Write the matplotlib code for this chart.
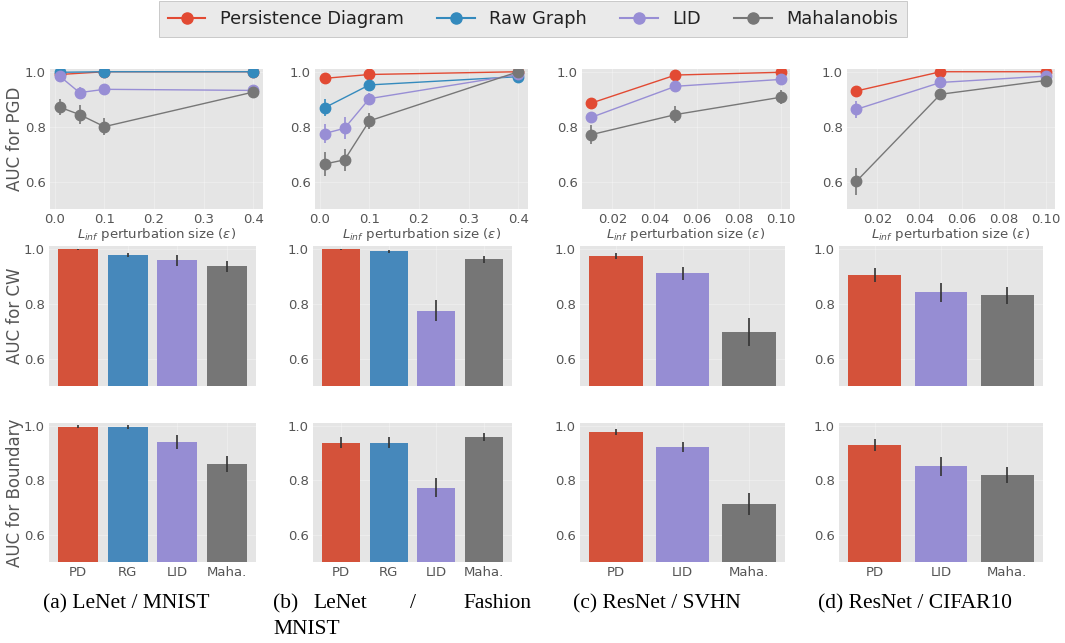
import numpy as np
import matplotlib.pyplot as plt
from matplotlib.lines import Line2D

plt.style.use('ggplot')

# colours of the four detectors
c_pd = '#E24A33'
c_rg = '#348ABD'
c_lid = '#988ED5'
c_maha = '#777777'
bar_pd = '#D4523A'
bar_rg = '#4688BB'
bar_lid = '#968DD3'
bar_maha = '#767676'

# ---- PGD (line plots) ----
eps_a3 = [0.01, 0.1, 0.4]
eps_a4 = [0.01, 0.05, 0.1, 0.4]
pgd_a_pd = [0.99, 1.0, 1.0]
pgd_a_rg = [0.998, 1.0, 1.0]
pgd_a_lid = [0.984, 0.924, 0.936, 0.932]
pgd_a_lid_err = [0.01, 0.02, 0.01, 0.005]
pgd_a_maha = [0.871, 0.844, 0.80, 0.926]
pgd_a_maha_err = [0.03, 0.035, 0.03, 0.01]

eps_b3 = [0.01, 0.1, 0.4]
eps_b4 = [0.01, 0.05, 0.1, 0.4]
pgd_b_pd = [0.976, 0.99, 1.0]
pgd_b_rg = [0.869, 0.952, 0.982]
pgd_b_rg_err = [0.03, 0.01, 0.005]
pgd_b_lid = [0.775, 0.794, 0.902, 0.99]
pgd_b_lid_err = [0.035, 0.04, 0.02, 0.005]
pgd_b_maha = [0.664, 0.679, 0.821, 1.0]
pgd_b_maha_err = [0.045, 0.04, 0.03, 0.005]

eps_c = [0.01, 0.05, 0.1]
pgd_c_pd = [0.886, 0.988, 0.998]
pgd_c_pd_err = [0.02, 0.01, 0.005]
pgd_c_lid = [0.834, 0.947, 0.972]
pgd_c_lid_err = [0.015, 0.01, 0.01]
pgd_c_maha = [0.771, 0.844, 0.907]
pgd_c_maha_err = [0.035, 0.03, 0.025]

pgd_d_pd = [0.930, 1.0, 1.0]
pgd_d_pd_err = [0.015, 0.005, 0.005]
pgd_d_lid = [0.863, 0.961, 0.984]
pgd_d_lid_err = [0.03, 0.01, 0.005]
pgd_d_maha = [0.601, 0.918, 0.968]
pgd_d_maha_err = [0.05, 0.01, 0.01]

# ---- CW / Boundary (bar plots) ----
names4 = ['PD', 'RG', 'LID', 'Maha.']
names3 = ['PD', 'LID', 'Maha.']

cw_a = [0.998, 0.978, 0.958, 0.937]
cw_a_err = [0.002, 0.008, 0.02, 0.02]
cw_b = [0.998, 0.99, 0.775, 0.961]
cw_b_err = [0.002, 0.005, 0.04, 0.012]
cw_c = [0.973, 0.91, 0.697]
cw_c_err = [0.012, 0.025, 0.05]
cw_d = [0.905, 0.841, 0.830]
cw_d_err = [0.025, 0.035, 0.03]

bd_a = [0.996, 0.995, 0.94, 0.86]
bd_a_err = [0.005, 0.007, 0.025, 0.03]
bd_b = [0.938, 0.938, 0.773, 0.96]
bd_b_err = [0.02, 0.02, 0.035, 0.015]
bd_c = [0.977, 0.922, 0.712]
bd_c_err = [0.01, 0.02, 0.04]
bd_d = [0.93, 0.851, 0.819]
bd_d_err = [0.022, 0.035, 0.03]

captions = ['(a) LeNet / MNIST', '(c) ResNet / SVHN', '(d) ResNet / CIFAR10']

W, H = 1065, 643
fig = plt.figure(figsize=(W / 100, H / 100), dpi=100)


def box(x0, x1, y0, y1):
    return [x0 / W, 1 - y1 / H, (x1 - x0) / W, (y1 - y0) / H]


def style(ax):
    ax.set_facecolor('#E5E5E5')
    ax.grid(True, color='white', alpha=0.3, linewidth=0.8)
    ax.tick_params(labelsize=9.5, colors='#555555', length=0, pad=3)
    ax.set_ylim(0.5, 1.01)
    ax.set_yticks([0.6, 0.8, 1.0])
    for s in ax.spines.values():
        s.set_visible(False)


def line(ax, x, y, err, color):
    ax.errorbar(x, y, yerr=err, color=color, marker='o', markersize=7.5,
                linewidth=1, elinewidth=1.2, capsize=0, ecolor=color)


top_cols = [(50, 263), (315, 528), (582, 790), (847, 1055)]
bar_cols = [(49, 256), (313, 512), (580, 785), (839, 1043)]

# top row
axs_top = [fig.add_axes(box(x0, x1, 69, 209)) for x0, x1 in top_cols]
ax = axs_top[0]
line(ax, eps_a3, pgd_a_pd, None, c_pd)
line(ax, eps_a3, pgd_a_rg, None, c_rg)
line(ax, eps_a4, pgd_a_lid, pgd_a_lid_err, c_lid)
line(ax, eps_a4, pgd_a_maha, pgd_a_maha_err, c_maha)
ax = axs_top[1]
line(ax, eps_b3, pgd_b_pd, None, c_pd)
line(ax, eps_b3, pgd_b_rg, pgd_b_rg_err, c_rg)
line(ax, eps_b4, pgd_b_lid, pgd_b_lid_err, c_lid)
line(ax, eps_b4, pgd_b_maha, pgd_b_maha_err, c_maha)
ax = axs_top[2]
line(ax, eps_c, pgd_c_pd, pgd_c_pd_err, c_pd)
line(ax, eps_c, pgd_c_lid, pgd_c_lid_err, c_lid)
line(ax, eps_c, pgd_c_maha, pgd_c_maha_err, c_maha)
ax = axs_top[3]
line(ax, eps_c, pgd_d_pd, pgd_d_pd_err, c_pd)
line(ax, eps_c, pgd_d_lid, pgd_d_lid_err, c_lid)
line(ax, eps_c, pgd_d_maha, pgd_d_maha_err, c_maha)

for i, ax in enumerate(axs_top):
    style(ax)
    if i < 2:
        ax.set_xticks([0.0, 0.1, 0.2, 0.3, 0.4])
    else:
        ax.set_xticks([0.02, 0.04, 0.06, 0.08, 0.10])
    ax.set_xlabel(r'$L_{inf}$ perturbation size ($\epsilon$)', fontsize=9.5,
                  color='#555555', labelpad=0)


def bars(ax, names, vals, errs, labels):
    if len(names) == 4:
        cols = [bar_pd, bar_rg, bar_lid, bar_maha]
    else:
        cols = [bar_pd, bar_lid, bar_maha]
    x = np.arange(len(names))
    ax.bar(x, vals, width=0.8, color=cols, zorder=2)
    ax.errorbar(x, vals, yerr=errs, fmt='none', ecolor='#333333',
                elinewidth=1.2, capsize=0, zorder=3)
    style(ax)
    ax.set_xticks(x)
    if labels:
        ax.set_xticklabels(names)
    else:
        ax.set_xticklabels([])


cw_data = [(names4, cw_a, cw_a_err), (names4, cw_b, cw_b_err),
           (names3, cw_c, cw_c_err), (names3, cw_d, cw_d_err)]
bd_data = [(names4, bd_a, bd_a_err), (names4, bd_b, bd_b_err),
           (names3, bd_c, bd_c_err), (names3, bd_d, bd_d_err)]

axs_mid = []
axs_bot = []
for (x0, x1), (n, v, e) in zip(bar_cols, cw_data):
    ax = fig.add_axes(box(x0, x1, 246, 386))
    bars(ax, n, v, e, False)
    axs_mid.append(ax)
for (x0, x1), (n, v, e) in zip(bar_cols, bd_data):
    ax = fig.add_axes(box(x0, x1, 423, 562))
    bars(ax, n, v, e, True)
    axs_bot.append(ax)

ylabels = ['AUC for PGD', 'AUC for CW', 'AUC for Boundary']
for ax, lab in zip([axs_top[0], axs_mid[0], axs_bot[0]], ylabels):
    ax.set_ylabel(lab, fontsize=12, color='#555555')
    ax.yaxis.set_label_coords(-0.12, 0.5)

# legend across the top
handles = [Line2D([], [], color=c, marker='o', markersize=8, linewidth=1.5)
           for c in [c_pd, c_rg, c_lid, c_maha]]
leg = fig.legend(handles, ['Persistence Diagram', 'Raw Graph', 'LID', 'Mahalanobis'],
                 loc='upper center', bbox_to_anchor=(533 / W, 1.012), ncol=4,
                 fontsize=12.8, frameon=True, fancybox=False, columnspacing=1.9,
                 handlelength=2.1, borderpad=0.5)
leg.get_frame().set_facecolor('#E5E5E5')
leg.get_frame().set_edgecolor('#AAAAAA')
for t in leg.get_texts():
    t.set_color('#222222')

# captions
cap = dict(fontsize=15.5, family='Liberation Serif', color='black', va='center')
fig.text(43 / W, 1 - 604 / H, captions[0], **cap)
fig.text(273 / W, 1 - 604 / H, '(b)', **cap)
fig.text(313 / W, 1 - 604 / H, 'LeNet', **cap)
fig.text(410 / W, 1 - 604 / H, '/', **cap)
fig.text(531 / W, 1 - 604 / H, 'Fashion', ha='right', **cap)
fig.text(273 / W, 1 - 629 / H, 'MNIST', **cap)
fig.text(573 / W, 1 - 604 / H, captions[1], **cap)
fig.text(818 / W, 1 - 604 / H, captions[2], **cap)

fig.savefig('out.png', dpi=100)
